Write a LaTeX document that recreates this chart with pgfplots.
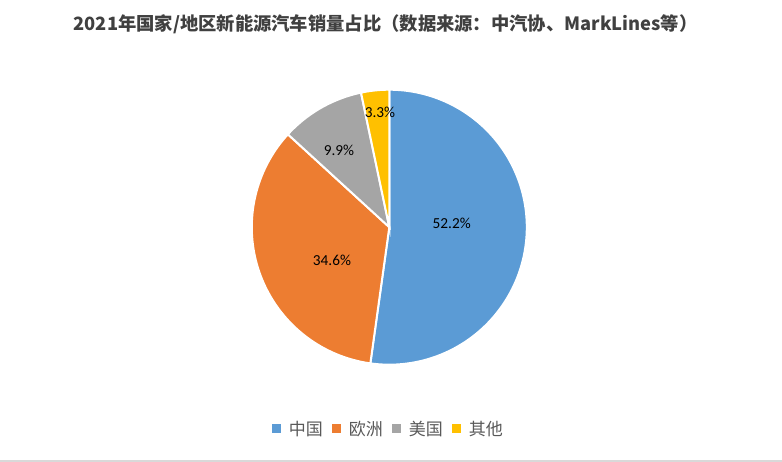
\documentclass[border=0pt]{standalone}
\usepackage{pgfplots}
\pgfplotsset{compat=1.18}
\usepackage{pgfplotstable}
\usepackage{fontspec}
\setmainfont{Carlito}
\newfontfamily\cjk{Noto Sans CJK SC}
\definecolor{cn}{HTML}{5B9BD5}
\definecolor{eu}{HTML}{ED7D31}
\definecolor{us}{HTML}{A5A5A5}
\definecolor{ot}{HTML}{FFC000}
\definecolor{titlec}{HTML}{404040}
\definecolor{legc}{HTML}{595959}
\definecolor{linec}{HTML}{D9D9D9}
\pgfplotstableread{
region share
CN 52.2
EU 34.6
US 9.9
OT 3.3
}\piedata
\begin{document}
\begin{tikzpicture}
\pgfplotstablegetelem{0}{share}\of\piedata \let\sA\pgfplotsretval
\pgfplotstablegetelem{1}{share}\of\piedata \let\sB\pgfplotsretval
\pgfplotstablegetelem{2}{share}\of\piedata \let\sC\pgfplotsretval
\pgfplotstablegetelem{3}{share}\of\piedata \let\sD\pgfplotsretval
\pgfmathsetmacro\aA{90}
\pgfmathsetmacro\aB{\aA-3.6*\sA}
\pgfmathsetmacro\aC{\aB-3.6*\sB}
\pgfmathsetmacro\aD{\aC-3.6*\sC}
\pgfmathsetmacro\aE{\aD-3.6*\sD}
\def\cx{389.3}\def\cy{234.8}\def\rr{137.5}
\path[use as bounding box] (0,0) rectangle (782pt,462pt);
\begin{axis}[
  scale only axis, width=782pt, height=462pt,
  xmin=0, xmax=782, ymin=0, ymax=462,
  hide axis, clip=false,
  samples=120, variable=\t,
  legend columns=-1,
  legend image code/.code={\fill[#1,draw=none] (0pt,-4.5pt) rectangle (9pt,4.5pt);},
  legend style={draw=none, fill=none, at={(387.5/782,33/462)}, anchor=center,
    font=\cjk\fontsize{17pt}{20pt}\selectfont, text=legc,
    nodes={inner sep=0pt},
    /tikz/every odd column/.append style={column sep=8pt},
    /tikz/every even column/.append style={column sep=9pt}},
]
\addplot[fill=cn, draw=white, line width=2pt, domain=\aB:\aA] ({\cx+\rr*cos(\t)},{\cy+\rr*sin(\t)}) -- (axis cs:\cx,\cy) -- cycle;
\addlegendentry{中国}
\addplot[fill=eu, draw=white, line width=2pt, domain=\aC:\aB] ({\cx+\rr*cos(\t)},{\cy+\rr*sin(\t)}) -- (axis cs:\cx,\cy) -- cycle;
\addlegendentry{欧洲}
\addplot[fill=us, draw=white, line width=2pt, domain=\aD:\aC] ({\cx+\rr*cos(\t)},{\cy+\rr*sin(\t)}) -- (axis cs:\cx,\cy) -- cycle;
\addlegendentry{美国}
\addplot[fill=ot, draw=white, line width=2pt, domain=\aE:\aD] ({\cx+\rr*cos(\t)},{\cy+\rr*sin(\t)}) -- (axis cs:\cx,\cy) -- cycle;
\addlegendentry{其他}
\node[font=\fontsize{15.3pt}{18pt}\selectfont] at (axis cs:451.7,238.7) {52.2\%};
\node[font=\fontsize{15.3pt}{18pt}\selectfont] at (axis cs:332,201.5) {34.6\%};
\node[font=\fontsize{15.3pt}{18pt}\selectfont] at (axis cs:339,312) {9.9\%};
\node[font=\fontsize{15.3pt}{18pt}\selectfont] at (axis cs:380,350) {3.3\%};
\node[font=\cjk\bfseries\fontsize{18.3pt}{21pt}\selectfont, text=titlec] at (axis cs:385.5,438) {2021年国家/地区新能源汽车销量占比（数据来源：中汽协、MarkLines等）};
\draw[linec, line width=1.5pt] (axis cs:0,0.75) -- (axis cs:782,0.75);
\end{axis}
\end{tikzpicture}
\end{document}
